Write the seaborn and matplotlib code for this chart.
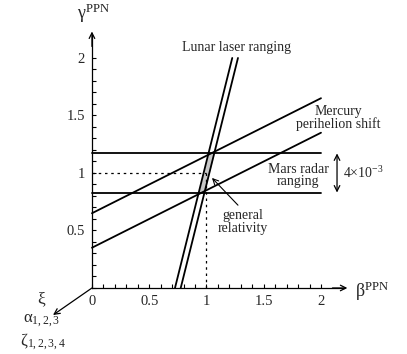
import numpy as np
import matplotlib
matplotlib.use('Agg')
import matplotlib.pyplot as plt
import seaborn as sns

# constraint lines in the (beta, gamma) plane
beta_ends = [0, 2]
mars_gamma = [0.83, 1.17]                  # Mars radar ranging (horizontal)
mercury_lo = [0.35, 1.35]                  # gamma at beta = 0 and 2
mercury_hi = [0.65, 1.65]
lunar_gamma = [0, 2]
lunar_a = [0.725, 1.225]                   # beta at gamma = 0 and 2
lunar_b = [0.775, 1.275]
x_ticks = [0, 0.5, 1, 1.5, 2]
x_ticklabels = ['0', '0.5', '1', '1.5', '2']
y_ticks = [0, 0.5, 1, 1.5, 2]
y_ticklabels = ['', '0.5', '1', '1.5', '2']

sns.set_style('white')
plt.rcParams['font.family'] = ['Liberation Serif', 'DejaVu Serif']
plt.rcParams['mathtext.fontset'] = 'custom'
plt.rcParams['mathtext.rm'] = 'Liberation Serif'
plt.rcParams['mathtext.it'] = 'Liberation Serif:italic'

fig = plt.figure(figsize=(4.07, 3.54), dpi=100)
ax = fig.add_axes([0, 0, 1, 1])
ax.set_xlim(-0.803, 2.751)
ax.set_ylim(-0.574, 2.504)

lw = 1.3
for g in mars_gamma:
    sns.lineplot(x=beta_ends, y=[g, g], color='black', lw=lw, ax=ax)
sns.lineplot(x=beta_ends, y=mercury_lo, color='black', lw=lw, ax=ax)
sns.lineplot(x=beta_ends, y=mercury_hi, color='black', lw=lw, ax=ax)
sns.lineplot(x=lunar_a, y=lunar_gamma, color='black', lw=lw, ax=ax, sort=False)
sns.lineplot(x=lunar_b, y=lunar_gamma, color='black', lw=lw, ax=ax, sort=False)

# allowed region: between lunar lines, inside Mars band
yy = np.linspace(mars_gamma[0], mars_gamma[1], 20)
slope = (lunar_a[1] - lunar_a[0]) / (lunar_gamma[1] - lunar_gamma[0])
ax.fill_betweenx(yy, lunar_a[0] + slope * yy, lunar_b[0] + slope * yy,
                 color='#c8c8c8', lw=0, zorder=1)

# general relativity guides
ax.plot([0, 1], [1, 1], color='black', lw=0.9, ls=(0, (2, 3)))
ax.plot([1, 1], [0, 1], color='black', lw=0.9, ls=(0, (2, 3)))

# axes through origin
for s in ['top', 'right']:
    ax.spines[s].set_visible(False)
ax.spines['left'].set_position(('data', 0))
ax.spines['bottom'].set_position(('data', 0))
ax.spines['left'].set_bounds(0, 2.2)
ax.spines['bottom'].set_bounds(0, 2.2)
for s in ['left', 'bottom']:
    ax.spines[s].set_linewidth(0.9)
    ax.spines[s].set_color('black')
ax.set_xticks(x_ticks)
ax.set_xticklabels(x_ticklabels)
ax.set_yticks(y_ticks)
ax.set_yticklabels(y_ticklabels)
ax.set_xticks(np.arange(0, 2.05, 0.1), minor=True)
ax.set_yticks(np.arange(0, 2.05, 0.1), minor=True)
ax.tick_params(which='both', direction='in', length=3, width=0.8,
               color='black', labelsize=10.5, pad=5)
ax.tick_params(axis='x', which='both', bottom=True)
ax.tick_params(axis='y', which='both', left=True)

arr = dict(arrowstyle='->', color='black', lw=0.9, shrinkA=0, shrinkB=0)
ax.annotate('', xy=(2.23, 0), xytext=(2.1, 0), arrowprops=arr)
ax.annotate('', xy=(0, 2.23), xytext=(0, 2.1), arrowprops=arr)
ax.annotate('', xy=(-0.34, -0.235), xytext=(0, 0), arrowprops=arr)

ax.text(2.30, -0.03, 'β$^{\\rm PPN}$', fontsize=13, ha='left', va='center')
ax.text(-0.13, 2.39, 'γ$^{\\rm PPN}$', fontsize=13, ha='left', va='center')
ax.text(-0.445, -0.10, 'ξ', fontsize=12.5, ha='center', va='center')
ax.text(-0.44, -0.285, 'α$_{1,2,3}$', fontsize=12, ha='center', va='center')
ax.text(-0.43, -0.465, 'ζ$_{1,2,3,4}$', fontsize=12, ha='center', va='center')

ax.text(1.258, 2.09, 'Lunar laser ranging', fontsize=10, ha='center', va='center')
ax.text(2.15, 1.475, 'Mercury\nperihelion shift', fontsize=10, ha='center',
        va='center', linespacing=0.95)
ax.text(1.80, 0.98, 'Mars radar\nranging', fontsize=10, ha='center',
        va='center', linespacing=0.95)
ax.annotate('', xy=(2.14, mars_gamma[1]), xytext=(2.14, mars_gamma[0]),
            arrowprops=dict(arrowstyle='<->', color='black', lw=0.9,
                            shrinkA=0, shrinkB=0))
ax.text(2.19, 1.0, '4×10$^{-3}$', fontsize=10, ha='left', va='center')
ax.annotate('', xy=(1.048, 0.957), xytext=(1.275, 0.72),
            arrowprops=dict(arrowstyle='->', color='black', lw=0.8,
                            shrinkA=0, shrinkB=0))
ax.text(1.32, 0.575, 'general\nrelativity', fontsize=10, ha='center',
        va='center', linespacing=0.95)

fig.savefig('out.png', dpi=100)
